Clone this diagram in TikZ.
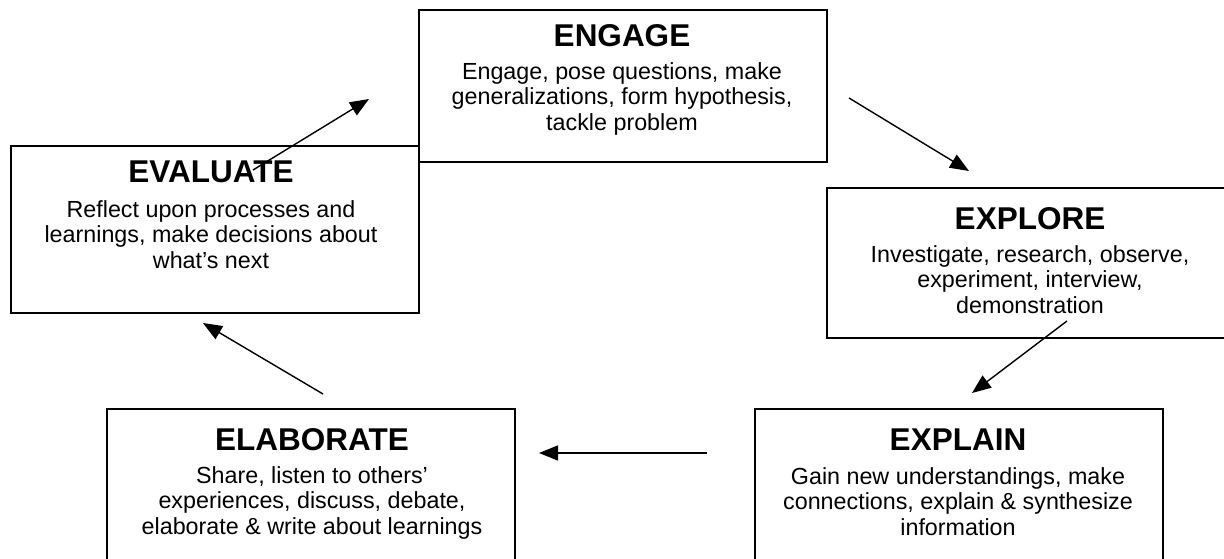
\documentclass[tikz,border=0pt]{standalone}
\usepackage{fontspec}
\setmainfont{Liberation Sans}
\usetikzlibrary{arrows.meta}
\tikzset{
    RA1/.style ={rectangle, minimum width = 408pt, minimum height = 152pt, draw=black, line width=2pt, anchor=north west, inner sep=0pt},
    TX1/.style ={anchor=north, inner sep=0pt, font=\fontsize{31.5}{35}\selectfont\bfseries},
    TX2/.style ={anchor=north, inner sep=0pt, align=center, font=\fontsize{23.3}{25.5}\selectfont},
    AR1/.style ={line width=1.4pt, -{Triangle[length=19pt,width=15pt]}}
}

\begin{document}
\begin{tikzpicture}[x=1pt,y=1pt]
        \useasboundingbox (0,0) rectangle (1224,558);
        \clip (0,0) rectangle (1224,558);
        % boxes
        \node[RA1] (engage) at (418,549) {};
        \node[RA1, minimum height=167pt] (evaluate) at (10,413) {};
        \node[RA1, minimum height=150pt] (explore) at (826,371) {};
        \node[RA1, minimum height=162pt] (elaborate) at (106,150) {};
        \node[RA1, minimum height=162pt] (explain) at (754,150) {};
        % texts
        \node[TX1] (engage-t) at (622,534) {ENGAGE};
        \node[TX2] (engage-b) at (622,496) {Engage, pose questions, make\\generalizations, form hypothesis,\\tackle problem};
        \node[TX1] (evaluate-t) at (211,397) {EVALUATE};
        \node[TX2] (evaluate-b) at (211,358) {Reflect upon processes and\\learnings, make decisions about\\what’s next};
        \node[TX1] (explore-t) at (1030,351) {EXPLORE};
        \node[TX2] (explore-b) at (1030,313) {Investigate, research, observe,\\experiment, interview,\\demonstration};
        \node[TX1] (elaborate-t) at (312,130) {ELABORATE};
        \node[TX2] (elaborate-b) at (312,92) {Share, listen to others’\\experiences, discuss, debate,\\elaborate \& write about learnings};
        \node[TX1] (explain-t) at (958,129) {EXPLAIN};
        \node[TX2] (explain-b) at (958,91) {Gain new understandings, make\\connections, explain \& synthesize\\information};
        % arrow ends
        \coordinate (c1a) at (253,388);
        \coordinate (c1b) at (369,459);
        \coordinate (c2a) at (849,460);
        \coordinate (c2b) at (969,387);
        \coordinate (c3a) at (1067,237);
        \coordinate (c3b) at (972,165);
        \coordinate (c4a) at (707,105);
        \coordinate (c4b) at (539,105);
        \coordinate (c5a) at (323,164);
        \coordinate (c5b) at (203,235);
        \draw[AR1] (c1a) -- (c1b);
        \draw[AR1] (c2a) -- (c2b);
        \draw[AR1] (c3a) -- (c3b);
        \draw[AR1] (c4a) -- (c4b);
        \draw[AR1] (c5a) -- (c5b);
    \end{tikzpicture}
\end{document}
